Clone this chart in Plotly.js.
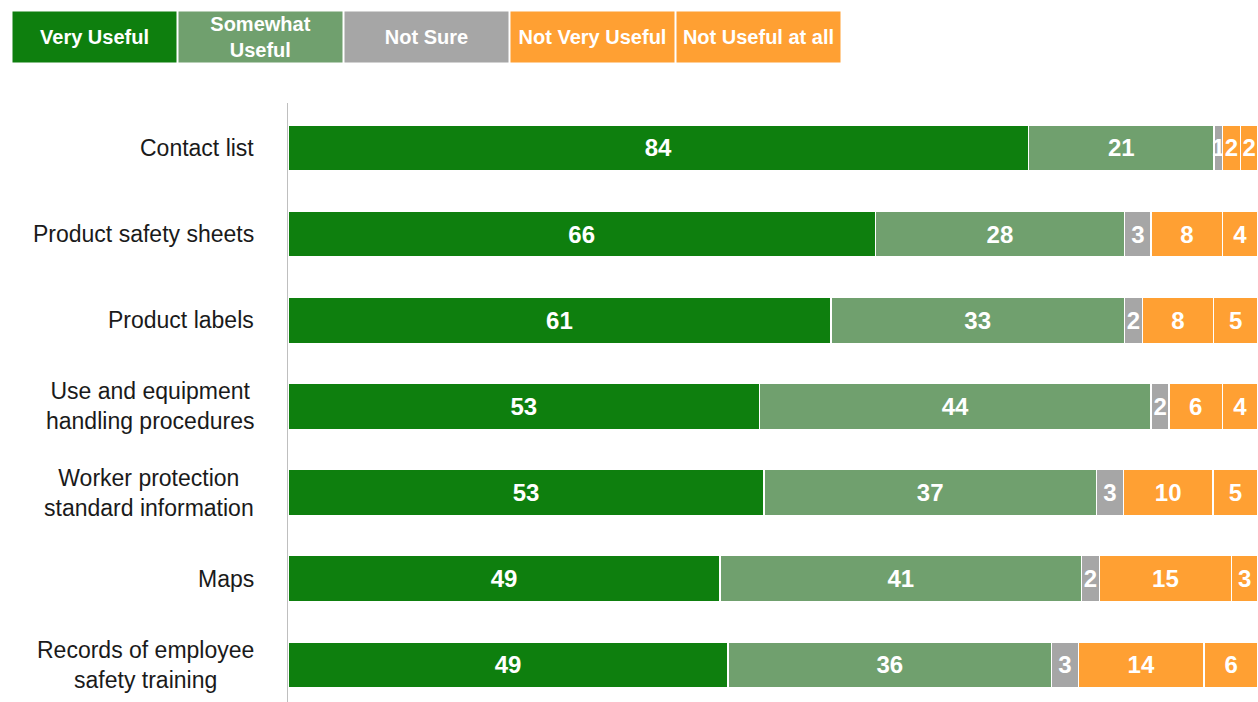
<!DOCTYPE html>
<html>
<head>
<meta charset="utf-8">
<script src="https://cdn.plot.ly/plotly-3.0.1.min.js"></script>
<style>html,body{margin:0;padding:0;background:#fff;}#chart{width:1258px;height:702px;}</style>
</head>
<body>
<div id="chart"></div>
<script>
const categories = [
  "Contact list",
  "Product safety sheets",
  "Product labels",
  "Use and equipment<br>handling procedures",
  "Worker protection<br>standard information",
  "Maps",
  "Records of employee<br>safety training"
];
const seriesNames = ["Very Useful", "Somewhat Useful", "Not Sure", "Not Very Useful", "Not Useful at all"];
const legendLabels = ["Very Useful", "Somewhat<br>Useful", "Not Sure", "Not Very Useful", "Not Useful at all"];
const veryUseful     = [84, 66, 61, 53, 53, 49, 49];
const somewhatUseful = [21, 28, 33, 44, 37, 41, 36];
const notSure        = [1, 3, 2, 2, 3, 2, 3];
const notVeryUseful  = [2, 8, 8, 6, 10, 15, 14];
const notUsefulAtAll = [2, 4, 5, 4, 5, 3, 6];
const seriesValues = [veryUseful, somewhatUseful, notSure, notVeryUseful, notUsefulAtAll];
const colors = ["#0e7f0e", "#70a06e", "#a6a6a6", "#ffa033", "#ffa033"];

const traces = seriesValues.map((vals, i) => ({
  type: "bar",
  orientation: "h",
  name: seriesNames[i],
  y: categories,
  x: vals,
  text: vals.map(String),
  textposition: "inside",
  insidetextanchor: "middle",
  textangle: 0,
  constraintext: "none",
  insidetextfont: {family: "Liberation Sans, Arial, sans-serif", size: 24, color: "#ffffff", weight: "bold"},
  marker: {color: colors[i], line: {color: "#ffffff", width: 1.5}},
  hoverinfo: "skip",
  cliponaxis: true
}));

const L = 288, plotW = 970, T = 103, plotH = 702 - 103;
const px2x = px => (px - L) / plotW;
const py2y = py => (702 - py) / plotH;
const legendLeft = [12, 178, 344, 510, 676];
const legendAnn = legendLabels.map((t, i) => ({
  xref: "paper", yref: "paper",
  x: px2x(legendLeft[i]), y: py2y(37),
  xanchor: "left", yanchor: "middle",
  width: 163, height: 50, borderpad: 0,
  bgcolor: colors[i],
  text: "<b>" + t + "</b>",
  showarrow: false,
  align: "center", valign: "middle",
  font: {family: "Liberation Sans Narrow, Arial Narrow, sans-serif", size: 20, color: "#ffffff"}
}));
const labelAnn = categories.map(c => ({
  xref: "paper", yref: "y",
  x: px2x(256), y: c,
  xanchor: "right", yanchor: "middle",
  text: c, showarrow: false, align: "center",
  font: {family: "Liberation Sans, Arial, sans-serif", size: 23, color: "#1a1a1a"}
}));

const layout = {
  width: 1258, height: 702,
  margin: {l: L, r: 0, t: T, b: 0, pad: 0},
  barmode: "stack",
  barnorm: "percent",
  bargap: 0.465,
  showlegend: false,
  paper_bgcolor: "#ffffff",
  plot_bgcolor: "#ffffff",
  uniformtext: {mode: "show", minsize: 22},
  xaxis: {range: [0, 100], showgrid: false, zeroline: false, showticklabels: false, ticks: "", showline: false, fixedrange: true},
  yaxis: {
    type: "category",
    categoryorder: "array", categoryarray: categories,
    range: [6.43, -0.52],
    showgrid: false, zeroline: false,
    showline: true, linecolor: "#bfbfbf", linewidth: 1,
    ticks: "", showticklabels: false,
    fixedrange: true
  },
  annotations: legendAnn.concat(labelAnn)
};

Plotly.newPlot("chart", traces, layout, {displayModeBar: false, staticPlot: true});
</script>
</body>
</html>
